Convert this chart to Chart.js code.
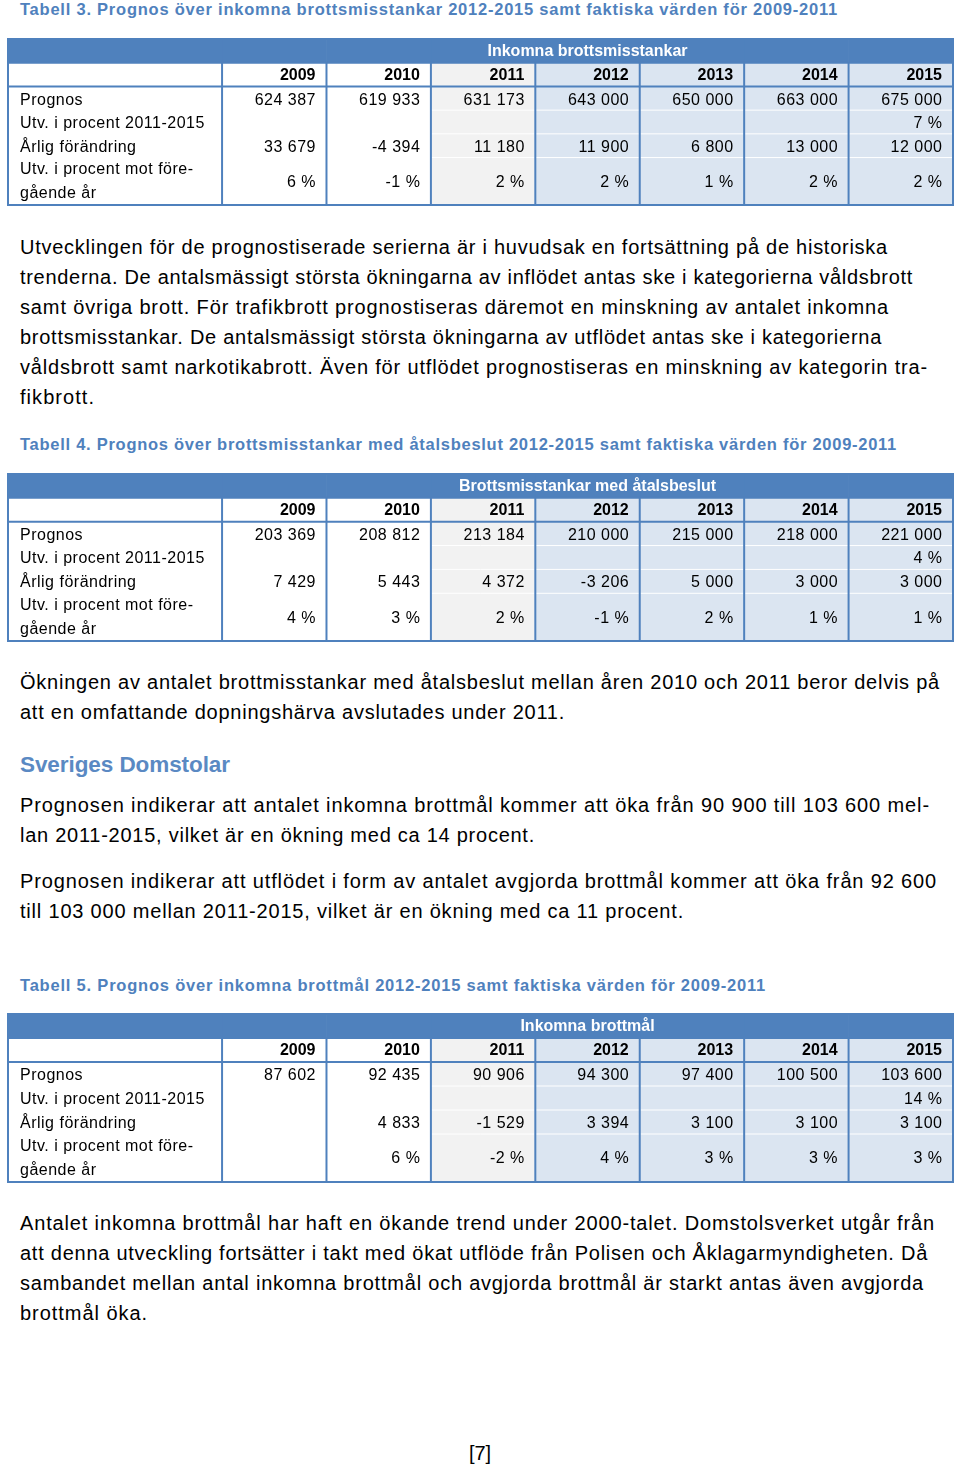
<!DOCTYPE html>
<html><head><meta charset="utf-8">
<script src="https://cdn.jsdelivr.net/npm/chart.js@4.4.1/dist/chart.umd.min.js"></script>
<style>
html,body{margin:0;padding:0;background:#fff;}
#page{position:relative;width:960px;height:1466px;overflow:hidden;font-family:"Liberation Sans",Arial,sans-serif;color:#000;}
.blk{position:absolute;left:20px;}
.blk span{display:inline-block;white-space:nowrap;}
.cap{font-weight:bold;font-size:16.5px;line-height:20px;color:#4f81bd;}
.p{font-size:20px;line-height:30px;}
.p span{display:block;width:max-content;}
.h{font-weight:bold;font-size:22.5px;line-height:30px;color:#5a89c3;}
.tbl{position:absolute;left:6px;width:949px;}
</style></head>
<body><div id="page">

<div class="blk cap" style="top:-1px"><span class="fit" data-r="838">Tabell 3. Prognos över inkomna brottsmisstankar 2012-2015 samt faktiska värden för 2009-2011</span></div>
<div class="tbl" style="top:37px;height:170px"><canvas id="t3"></canvas></div>

<div class="blk p" style="top:232px">
<span class="fit" data-r="888">Utvecklingen för de prognostiserade serierna är i huvudsak en fortsättning på de historiska</span>
<span class="fit" data-r="913">trenderna. De antalsmässigt största ökningarna av inflödet antas ske i kategorierna våldsbrott</span>
<span class="fit" data-r="889">samt övriga brott. För trafikbrott prognostiseras däremot en minskning av antalet inkomna</span>
<span class="fit" data-r="882">brottsmisstankar. De antalsmässigt största ökningarna av utflödet antas ske i kategorierna</span>
<span class="fit" data-r="928">våldsbrott samt narkotikabrott. Även för utflödet prognostiseras en minskning av kategorin tra-</span>
<span class="fit" data-r="95">fikbrott.</span>
</div>

<div class="blk cap" style="top:434px"><span class="fit" data-r="897">Tabell 4. Prognos över brottsmisstankar med åtalsbeslut 2012-2015 samt faktiska värden för 2009-2011</span></div>
<div class="tbl" style="top:472px;height:171px"><canvas id="t4"></canvas></div>

<div class="blk p" style="top:667px">
<span class="fit" data-r="940">Ökningen av antalet brottmisstankar med åtalsbeslut mellan åren 2010 och 2011 beror delvis på</span>
<span class="fit" data-r="565">att en omfattande dopningshärva avslutades under 2011.</span>
</div>

<div class="blk h" style="top:750px"><span class="fit" data-r="230">Sveriges Domstolar</span></div>

<div class="blk p" style="top:790px">
<span class="fit" data-r="930">Prognosen indikerar att antalet inkomna brottmål kommer att öka från 90 900 till 103 600 mel-</span>
<span class="fit" data-r="535">lan 2011-2015, vilket är en ökning med ca 14 procent.</span>
</div>

<div class="blk p" style="top:866px">
<span class="fit" data-r="937">Prognosen indikerar att utflödet i form av antalet avgjorda brottmål kommer att öka från 92 600</span>
<span class="fit" data-r="684">till 103 000 mellan 2011-2015, vilket är en ökning med ca 11 procent.</span>
</div>

<div class="blk cap" style="top:975px"><span class="fit" data-r="766">Tabell 5. Prognos över inkomna brottmål 2012-2015 samt faktiska värden för 2009-2011</span></div>
<div class="tbl" style="top:1012px;height:172px"><canvas id="t5"></canvas></div>

<div class="blk p" style="top:1208px">
<span class="fit" data-r="935">Antalet inkomna brottmål har haft en ökande trend under 2000-talet. Domstolsverket utgår från</span>
<span class="fit" data-r="928">att denna utveckling fortsätter i takt med ökat utflöde från Polisen och Åklagarmyndigheten. Då</span>
<span class="fit" data-r="924">sambandet mellan antal inkomna brottmål och avgjorda brottmål är starkt antas även avgjorda</span>
<span class="fit" data-r="148">brottmål öka.</span>
</div>

<div class="p" style="position:absolute;left:0;width:960px;text-align:center;top:1438px">[7]</div>

</div>
<script>
// ---------- data ----------
const years = ['2009', '2010', '2011', '2012', '2013', '2014', '2015'];
const rowLabels = ['Prognos', 'Utv. i procent 2011-2015', 'Årlig förändring', 'Utv. i procent mot före-', 'gående år'];

const t3Title = 'Inkomna brottsmisstankar';
const t3Prognos = [624387, 619933, 631173, 643000, 650000, 663000, 675000];
const t3Utv = [null, null, null, null, null, null, 7];
const t3Change = [33679, -4394, 11180, 11900, 6800, 13000, 12000];
const t3Pct = [6, -1, 2, 2, 1, 2, 2];

const t4Title = 'Brottsmisstankar med åtalsbeslut';
const t4Prognos = [203369, 208812, 213184, 210000, 215000, 218000, 221000];
const t4Utv = [null, null, null, null, null, null, 4];
const t4Change = [7429, 5443, 4372, -3206, 5000, 3000, 3000];
const t4Pct = [4, 3, 2, -1, 2, 1, 1];

const t5Title = 'Inkomna brottmål';
const t5Prognos = [87602, 92435, 90906, 94300, 97400, 100500, 103600];
const t5Utv = [null, null, null, null, null, null, 14];
const t5Change = [null, 4833, -1529, 3394, 3100, 3100, 3100];
const t5Pct = [null, 6, -2, 4, 3, 3, 3];

// ---------- style ----------
const BLUE = '#4f81bd';
const GRAY = '#f2f2f2';
const LIGHT = '#dbe5f1';
const WHITE = '#ffffff';
const LABEL_W = 2.05;   // label column width in column units
const FONT = '"Liberation Sans", Arial, sans-serif';
const FS = 16;

function colFill(j) {
  if (j < 0) return WHITE;
  const y = +years[j];
  if (y <= 2010) return WHITE;
  if (y === 2011) return GRAY;
  return LIGHT;
}
function fmt(n) {
  if (n === null || n === undefined) return '';
  const s = Math.abs(n).toString().replace(/\B(?=(\d{3})+(?!\d))/g, ' ');
  return (n < 0 ? '-' : '') + s;
}
function pct(n) { return (n === null || n === undefined) ? '' : n + ' %'; }

const SLOTS = ['head', 'years', 'r0', 'r1', 'r2', 'r3a', 'r3b'];

const tablePlugin = {
  id: 'tableCells',
  afterDatasetsDraw(chart) {
    const { ctx, scales: { x, y } } = chart;
    const t = chart.options.plugins.tableCells;
    const c0 = y.getPixelForValue(0), c1 = y.getPixelForValue(1);
    const half = (c1 - c0) / 2;
    const bnd = k => y.getPixelForValue(k) - half; // top of slot k
    const L = x.getPixelForValue(-LABEL_W), R = x.getPixelForValue(years.length);
    const bottom = bnd(SLOTS.length);
    ctx.save();
    // white row separators
    ctx.strokeStyle = WHITE; ctx.lineWidth = 1;
    [3, 4, 5].forEach(k => {
      ctx.beginPath(); ctx.moveTo(L, bnd(k)); ctx.lineTo(R, bnd(k)); ctx.stroke();
    });
    // blue lines
    ctx.strokeStyle = BLUE; ctx.lineWidth = 2;
    [1, 2].forEach(k => {
      ctx.beginPath(); ctx.moveTo(L, bnd(k)); ctx.lineTo(R, bnd(k)); ctx.stroke();
    });
    for (let j = 0; j < years.length; j++) {
      const px = x.getPixelForValue(j);
      ctx.beginPath(); ctx.moveTo(px, bnd(1)); ctx.lineTo(px, bottom); ctx.stroke();
    }
    ctx.strokeRect(L, bnd(0), R - L, bottom - bnd(0));

    // texts
    ctx.textBaseline = 'middle';
    ctx.fillStyle = WHITE; ctx.textAlign = 'center';
    ctx.font = 'bold ' + FS + 'px ' + FONT;
    ctx.fillText(t.title, (x.getPixelForValue(0) + R) / 2, y.getPixelForValue(0) + 0.5);
    ctx.fillStyle = '#000'; ctx.textAlign = 'right';
    years.forEach((yr, j) => ctx.fillText(yr, x.getPixelForValue(j + 1) - 11, y.getPixelForValue(1) + 1));
    ctx.font = FS + 'px ' + FONT;
    ctx.letterSpacing = '0.5px';
    const rows = [t.prognos.map(fmt), t.utv.map(pct), t.change.map(fmt), t.pct.map(pct)];
    const rowY = [y.getPixelForValue(2) + 2, y.getPixelForValue(3) + 1.5, y.getPixelForValue(4) + 1.5, bnd(6) + 1];
    rows.forEach((vals, r) => {
      vals.forEach((v, j) => ctx.fillText(v, x.getPixelForValue(j + 1) - 10.5, rowY[r]));
    });
    ctx.textAlign = 'left';
    const lx = L + 12;
    ctx.fillText(rowLabels[0], lx, rowY[0]);
    ctx.fillText(rowLabels[1], lx, rowY[1]);
    ctx.fillText(rowLabels[2], lx, rowY[2]);
    ctx.fillText(rowLabels[3], lx, y.getPixelForValue(5) + 0.5);
    ctx.fillText(rowLabels[4], lx, y.getPixelForValue(6) + 0.5);
    ctx.restore();
  }
};

function makeTable(id, title, prognos, utv, change, pctv) {
  const cols = [-1].concat(years.map((_, j) => j));
  const datasets = cols.map(j => ({
    label: j < 0 ? 'label' : years[j],
    data: SLOTS.map(() => j < 0 ? [-LABEL_W, 0] : [j, j + 1]),
    backgroundColor: SLOTS.map((s, k) => k === 0 ? BLUE : colFill(j)),
    borderWidth: 0,
    grouped: false,
    categoryPercentage: 1,
    barPercentage: 1
  }));
  new Chart(document.getElementById(id), {
    type: 'bar',
    data: { labels: SLOTS, datasets },
    options: {
      indexAxis: 'y',
      responsive: true,
      maintainAspectRatio: false,
      animation: false,
      events: [],
      layout: { padding: 2 },
      scales: {
        x: { type: 'linear', min: -LABEL_W, max: years.length, display: false },
        y: { type: 'category', display: false }
      },
      plugins: {
        legend: { display: false },
        tooltip: { enabled: false },
        tableCells: { title, prognos, utv, change, pct: pctv }
      }
    },
    plugins: [tablePlugin]
  });
}

function fitLines() {
  document.querySelectorAll('.fit').forEach(el => {
    el.style.letterSpacing = '0px';
    const w = el.getBoundingClientRect().width;
    const target = parseFloat(el.dataset.r) - 20;
    const n = el.textContent.length;
    let ls = (target - w) / n;
    ls = Math.max(-1.2, Math.min(1.2, ls));
    el.style.letterSpacing = ls.toFixed(3) + 'px';
  });
}

fitLines();
makeTable('t3', t3Title, t3Prognos, t3Utv, t3Change, t3Pct);
makeTable('t4', t4Title, t4Prognos, t4Utv, t4Change, t4Pct);
makeTable('t5', t5Title, t5Prognos, t5Utv, t5Change, t5Pct);
</script>
</body></html>
